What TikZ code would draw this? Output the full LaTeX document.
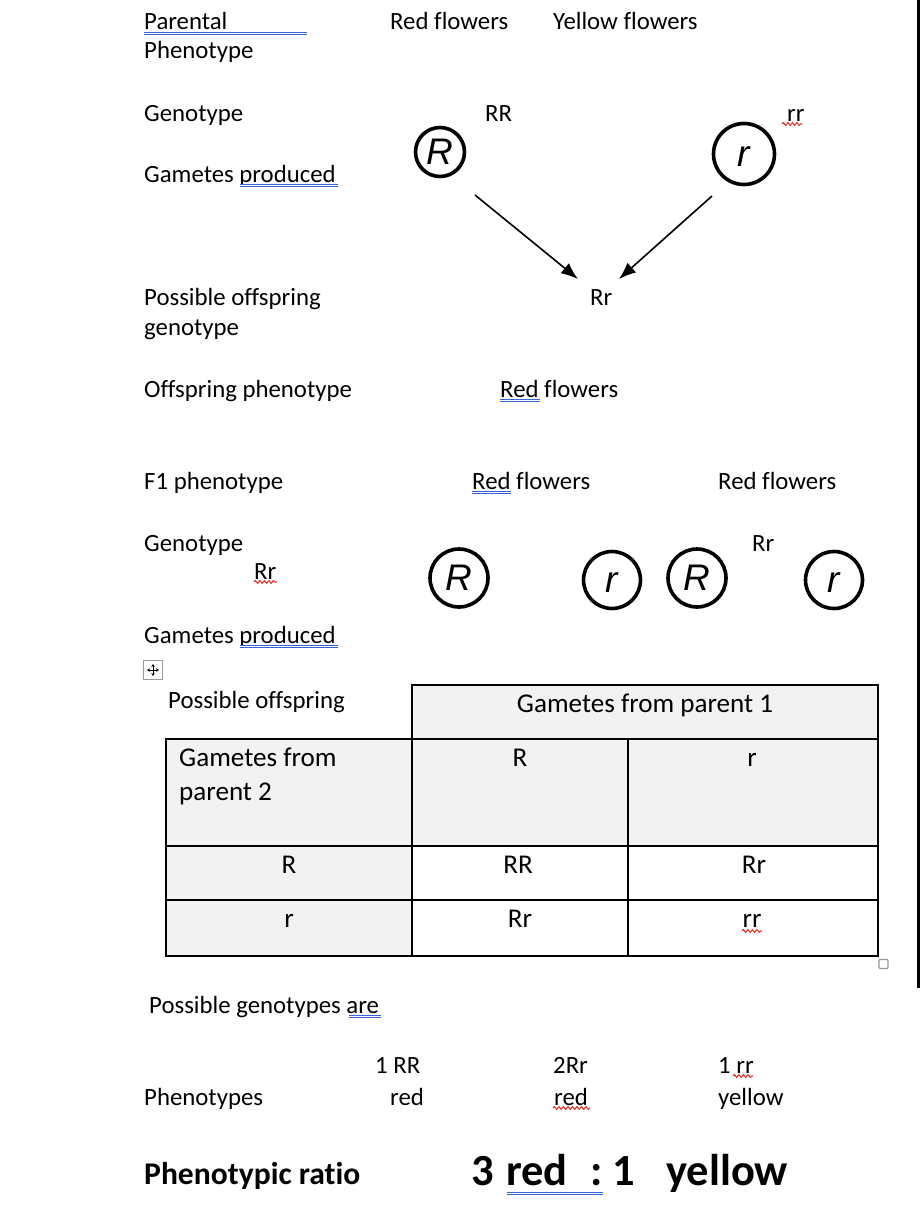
\documentclass[tikz,border=0pt]{standalone}
\usepackage{fontspec}
\setmainfont{Carlito}[Ligatures=NoCommon]
\newfontfamily\arialfont{Liberation Sans}
\usetikzlibrary{arrows.meta,decorations.pathmorphing}
\definecolor{cellgray}{HTML}{F2F2F2}
\definecolor{ulblue}{HTML}{3A62D6}
\definecolor{wavered}{HTML}{E2392D}
\definecolor{handlegray}{HTML}{9A9A9A}
\tikzset{
  txt/.style={anchor=base west, inner sep=0pt, font=\fontsize{24.8}{30}\selectfont},
  ctxt/.style={anchor=base, inner sep=0pt, font=\fontsize{24.8}{30}\selectfont},
  ttxt/.style={anchor=base west, inner sep=0pt, font=\fontsize{27.1}{33}\selectfont},
  tctxt/.style={anchor=base, inner sep=0pt, font=\fontsize{27.1}{33}\selectfont},
  bigbold/.style={anchor=base west, inner sep=0pt, font=\fontsize{44.5}{50}\selectfont\bfseries},
  midbold/.style={anchor=base west, inner sep=0pt, font=\fontsize{31.6}{36}\selectfont\bfseries},
  gamete/.style={circle, draw, line width=3.6pt, inner sep=0pt, font=\arialfont\itshape\fontsize{37}{37}\selectfont},
  blueul/.style={draw=ulblue, double=white, double distance=1.3pt, line width=1.3pt},
  redwave/.style={draw=wavered, line width=1.1pt, decorate, decoration={snake, segment length=4.5pt, amplitude=1.4pt}},
  tbl/.style={line width=2.6pt, line cap=rect},
  arr/.style={line width=1.6pt, -{Latex[length=17pt, width=13pt]}}
}
\begin{document}
\begin{tikzpicture}[x=1pt, y=-1pt]
\useasboundingbox (0,0) rectangle (920,1223);
% page edge line
\coordinate (edgeT) at (918.5,0);
\coordinate (edgeB) at (918.5,988);
\draw[line width=2.2pt] (edgeT) -- (edgeB);

% ---- Parental cross
\node[txt] (parental) at (144,30) {Parental};
\node[txt] (pheno1) at (144,59) {Phenotype};
\node[txt] (redfl1) at (390,30) {Red flowers};
\node[txt] (yelfl1) at (553,30) {Yellow flowers};
\coordinate (ulA1) at (144,33.5); \coordinate (ulA2) at (307,33.5);
\draw[blueul] (ulA1) -- (ulA2);

\node[txt] (geno1) at (144,121) {Genotype};
\node[txt] (RR1) at (485,121) {RR};
\node[txt] (rr1) at (787,121) {rr};
\coordinate (wv1a) at (782,124); \coordinate (wv1b) at (802,124);
\draw[redwave] (wv1a) -- (wv1b);

\node[txt] (gam1) at (144,182) {Gametes produced};
\coordinate (ulB1) at (240,185.5); \coordinate (ulB2) at (338,185.5);
\draw[blueul] (ulB1) -- (ulB2);

\node[gamete, minimum size=49pt] (gR1) at (440,152) {R\vphantom{R}};
\node[gamete, minimum size=61pt] (gr1) at (744,154) {r\vphantom{R}};

\node[txt] (Rr1) at (590,305) {Rr};
\coordinate (a1s) at (475,195); \coordinate (a1e) at (578,279);
\coordinate (a2s) at (712,196); \coordinate (a2e) at (619,279);
\draw[arr] (a1s) -- (a1e);
\draw[arr] (a2s) -- (a2e);

\node[txt] (posoff1) at (144,305) {Possible offspring};
\node[txt] (posoff2) at (144,335) {genotype};
\node[txt] (offph) at (144,397) {Offspring phenotype};
\node[txt] (redfl2) at (500,397) {Red flowers};
\coordinate (ulC1) at (500,400.5); \coordinate (ulC2) at (540,400.5);
\draw[blueul] (ulC1) -- (ulC2);

% ---- F1 cross
\node[txt] (f1ph) at (144,489) {F1 phenotype};
\node[txt] (redfl3) at (472,489) {Red flowers};
\coordinate (ulD1) at (472,492.5); \coordinate (ulD2) at (511,492.5);
\draw[blueul] (ulD1) -- (ulD2);
\node[txt] (redfl4) at (718,489) {Red flowers};

\node[txt] (geno2) at (144,551) {Genotype};
\node[txt] (Rr2) at (752,551) {Rr};
\node[txt] (Rr3) at (254,579) {Rr};
\coordinate (wv2a) at (254,582); \coordinate (wv2b) at (277,582);
\draw[redwave] (wv2a) -- (wv2b);

\node[gamete, minimum size=58pt] (gR2) at (459,578) {R\vphantom{R}};
\node[gamete, minimum size=57pt] (gr2) at (612,580) {r\vphantom{R}};
\node[gamete, minimum size=58pt] (gR3) at (697,578) {R\vphantom{R}};
\node[gamete, minimum size=57pt] (gr3) at (834,580) {r\vphantom{R}};

\node[txt] (gam2) at (144,643) {Gametes produced};
\coordinate (ulE1) at (240,646.5); \coordinate (ulE2) at (338,646.5);
\draw[blueul] (ulE1) -- (ulE2);

% table move handle
\node[draw=handlegray, fill=white, line width=1.2pt, minimum size=19pt, inner sep=0pt] (movebox) at (153,670) {};
\draw[line width=0.9pt, {Stealth[length=3pt,width=3.5pt]}-{Stealth[length=3pt,width=3.5pt]}] ([xshift=-6pt]movebox.center) -- ([xshift=6pt]movebox.center);
\draw[line width=0.9pt, {Stealth[length=3pt,width=3.5pt]}-{Stealth[length=3pt,width=3.5pt]}] ([yshift=-6pt]movebox.center) -- ([yshift=6pt]movebox.center);

\node[txt] (posoff3) at (168,708) {Possible offspring};

% ---- Punnett square
\fill[cellgray] (412,685) rectangle (878,846);
\fill[cellgray] (166,739) rectangle (412,956);
\draw[tbl] (412,685) rectangle (878,739);
\draw[tbl] (166,739) rectangle (878,956);
\draw[tbl] (412,739) -- (412,956);
\draw[tbl] (628,739) -- (628,956);
\draw[tbl] (166,846) -- (878,846);
\draw[tbl] (166,900) -- (878,900);

\node[tctxt] (hdr) at (645,712) {Gametes from parent 1};
\node[ttxt] (gfp2a) at (179,766) {Gametes from};
\node[ttxt] (gfp2b) at (179,800) {parent 2};
\node[tctxt] (cR) at (520,766) {R};
\node[tctxt] (cr) at (752,766) {r};
\node[tctxt] (rR) at (289,873) {R};
\node[tctxt] (RR2) at (518,873) {RR};
\node[tctxt] (Rr4) at (754,873) {Rr};
\node[tctxt] (rr) at (289,927) {r};
\node[tctxt] (Rr5) at (520,927) {Rr};
\node[tctxt] (rr2) at (752,927) {rr};
\coordinate (wv3a) at (742,931); \coordinate (wv3b) at (762,931);
\draw[redwave] (wv3a) -- (wv3b);

% table resize handle
\node[draw=handlegray, fill=white, line width=1.2pt, rounded corners=1pt, minimum size=9pt, inner sep=0pt] (sizebox) at (883.5,964) {};

% ---- Results
\node[txt] (posgen) at (149,1013) {Possible genotypes are};
\coordinate (ulF1) at (349,1016.5); \coordinate (ulF2) at (381,1016.5);
\draw[blueul] (ulF1) -- (ulF2);

\node[txt] (oneRR) at (375,1073) {1 RR};
\node[txt] (twoRr) at (553,1073) {2Rr};
\node[txt] (onerr) at (718,1073) {1 rr};
\coordinate (wv4a) at (733,1076); \coordinate (wv4b) at (753,1076);
\draw[redwave] (wv4a) -- (wv4b);

\node[txt] (phenos) at (144,1105) {Phenotypes};
\node[txt] (red1) at (390,1105) {red};
\node[txt] (red2) at (554,1105) {red};
\coordinate (wv5a) at (553,1108); \coordinate (wv5b) at (590,1108);
\draw[redwave] (wv5a) -- (wv5b);
\node[txt] (yel1) at (718,1105) {yellow};

\node[midbold] (phratio) at (144,1184) {Phenotypic ratio};
\node[bigbold] (three) at (471,1185) {3};
\node[bigbold] (redb) at (506,1185) {red};
\node[bigbold] (colon) at (590,1185) {:};
\node[bigbold] (oneb) at (612,1185) {1};
\node[bigbold] (yelb) at (666,1185) {yellow};
\coordinate (ulG1) at (507,1193.5); \coordinate (ulG2) at (603,1193.5);
\draw[blueul] (ulG1) -- (ulG2);
\end{tikzpicture}
\end{document}
